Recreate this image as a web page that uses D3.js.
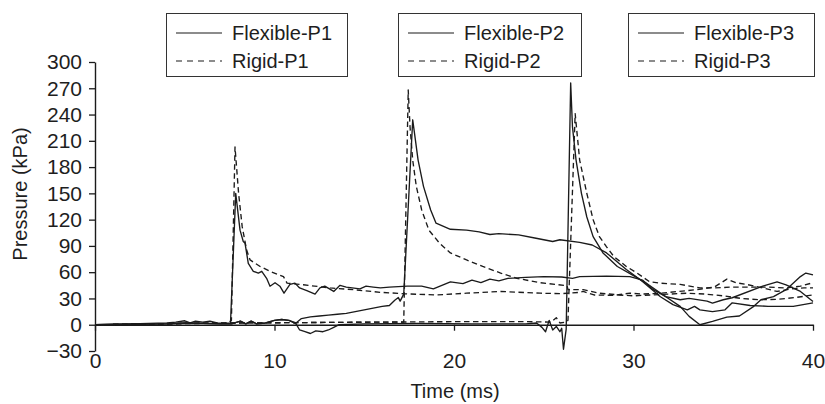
<!DOCTYPE html>
<html>
<head>
<meta charset="utf-8">
<script src="https://cdn.jsdelivr.net/npm/d3@7/dist/d3.min.js"></script>
<style>
  body { margin: 0; background: #fff; }
  svg { display: block; font-family: "Liberation Sans", Arial, sans-serif; }
</style>
</head>
<body>
<div id="chart"></div>
<script>
// [time (ms), pressure (kPa)]
const flexibleP1 = [[0,0],[1,0.5],[2,1],[3,1.5],[4,2],[4.5,3],[5,4.5],[5.3,2],[5.6,4],[6,3],[6.4,4],[6.8,2],[7.2,1.5],[7.55,2],
  [7.84,150],[8.08,108],[8.26,95],[8.36,93],[8.54,70],[8.82,61],[9.1,59],[9.29,61],[9.56,53],[9.75,44],[10.03,48],[10.3,44],
  [10.53,36],[10.86,46],[11.14,47.5],[11.4,42],[11.8,39],[12.26,35],[12.53,42],[12.8,44],[13.3,38],[13.65,45],[14,43],
  [14.76,41],[15.1,44],[15.5,43],[15.9,42],[16.4,43],[17.4,44],[18.2,44],[18.85,41],[19.8,49],[20.5,47],[21,51],[21.5,48],
  [22,52],[22.5,50],[23,53],[24,54],[25,55],[26,54.5],[26.6,53],[27,55],[28.5,55.5],[29.8,55],[30.5,51],[31.1,40],[31.8,32],
  [32.6,28.5],[33.1,30],[34.1,27],[34.4,24.7],[35,28.5],[35.5,30.8],[37.2,44],[38,49],[38.5,45.6],[39.3,38],[40,26.6]];

const rigidP1 = [[0,0],[2,0.5],[4,1],[6,1.5],[7.4,2],[7.6,5],[7.8,203],[8.0,150],[8.2,112],[8.45,85],[8.64,74],[9.2,66.5],
  [9.75,61],[10.5,55],[10.7,47.5],[11.6,45.6],[13.1,42],[14.4,40],[15.9,37],[17.3,35.3],[19,34],[20.7,36],[22.6,38],
  [24.8,36],[26,35.5],[27,37],[27.2,38],[27.8,34],[28.9,33.5],[29.8,36],[30.5,35],[31.5,36],[32.5,38],[33.5,40],[34.5,43],
  [35.2,52],[35.7,48],[36.3,46],[37.2,42],[38,38],[38.8,41],[39.5,42],[40,42]];

const flexibleP2 = [[0,0],[2,0.5],[4,1],[5,2],[6,1.5],[7,1],[7.6,1],[8.1,4],[8.4,1],[8.7,4],[9,1],[9.5,2],[10,5],[10.4,6],
  [10.8,5],[11.2,2],[11.5,7],[12,9],[12.5,10],[13,11],[13.5,12],[14,13],[14.5,15],[15,17],[15.5,19],[16,21],[16.4,22],
  [16.7,28],[16.9,31],[17.0,27],[17.2,35],[17.7,234],[18,188],[18.3,158],[18.7,131],[19,116],[19.8,109],[20.7,108],
  [21.4,106],[22,103],[22.5,104],[23.6,102.6],[24.5,99],[25.5,95],[25.9,97],[27,94],[27.7,91],[28.5,82],[29.6,63],
  [30.4,51],[31.5,32],[32.2,23],[33,17],[33.4,21],[33.7,17],[34.4,15],[35.1,17],[35.5,25],[36.5,22],[37.5,21],[38.9,21],[40,25]];

const rigidP2 = [[0,0],[2,0.5],[5,1.5],[8,2],[12,2.5],[16,3],[17.2,3],[17.45,268],[17.55,226],[17.7,188],[17.9,158],
  [18.2,131],[18.6,108],[19.2,93],[19.8,82],[20.7,74],[21.6,66.5],[22.6,59],[23.5,53],[24.8,48],[26.3,44.5],[26.35,40],
  [27.2,40],[28.1,36],[29.2,34],[30,33],[31,34],[32,35],[33,36],[34,35],[35,33],[36,30],[37,28.5],[38,29],[39,31],[40,34]];

const flexibleP3 = [[0,0],[2,0.5],[4,1],[5,2],[6,1.5],[7,1],[7.6,1],[8.1,4],[8.4,1],[8.7,4],[9,1],[9.5,2],[10,5],[10.4,6],
  [10.8,5],[11.2,1],[11.4,-6],[11.7,-8],[12,-10],[12.3,-7],[12.7,-8],[13,-6],[13.3,-3],[13.6,0],[15,1],[18,1.5],[21,1],
  [24,1],[24.6,2],[24.9,-3],[25.1,-8],[25.3,5],[25.5,-6],[25.7,-2],[25.9,-8],[26.0,-4],[26.1,-28],[26.25,-5],[26.5,276],
  [26.6,226],[26.8,188],[27.1,150],[27.4,123],[27.75,100.6],[28.3,82],[29.1,66.5],[30,56],[30.7,47.5],[31.8,32],[32.6,21],
  [33.1,9.5],[33.7,0],[34.4,3.8],[35.2,8.7],[35.9,10],[36.7,21],[37.1,28.5],[37.8,32],[38.5,40],[39.3,55],[39.6,59],[40,57]];

const rigidP3 = [[0,0],[2,0.5],[5,1.5],[8,2],[12,2.5],[16,3],[20,3.5],[24,3.5],[25.4,3],[25.7,8],[25.9,2],[26.2,3],
  [26.35,5],[26.75,241],[27.0,188],[27.4,150],[27.75,120],[28.1,100.6],[28.5,89],[28.9,78],[29.6,66.5],[30.2,59],
  [30.9,49],[31.5,47.5],[32.6,46],[33.7,42],[34.5,42],[35.5,43],[36.5,43],[37.5,43],[38.5,42],[39.3,44],[40,48]];

const seriesNames = ["Flexible-P1", "Rigid-P1", "Flexible-P2", "Rigid-P2", "Flexible-P3", "Rigid-P3"];
const seriesData = [flexibleP1, rigidP1, flexibleP2, rigidP2, flexibleP3, rigidP3];
const xTicks = [0, 10, 20, 30, 40];
const yTicks = [-30, 0, 30, 60, 90, 120, 150, 180, 210, 240, 270, 300];

const width = 825, height = 404;
const ink = "#1b1b1b";
const dash = "5.5,3.5";

const svg = d3.select("#chart").append("svg")
    .attr("width", width)
    .attr("height", height);

const x = d3.scaleLinear().domain([0, 40]).range([95, 813]);
const y = d3.scaleLinear().domain([-30, 300]).range([351, 62]);

// y axis
const yAxis = svg.append("g")
    .attr("transform", `translate(${x(0)},0)`)
    .call(d3.axisLeft(y).tickValues(yTicks).tickSize(6).tickSizeOuter(0).tickPadding(7));

// x axis sits on the zero line, labels below the -30 level
const xAxis = svg.append("g")
    .attr("transform", `translate(0,${y(0)})`)
    .call(d3.axisBottom(x).tickValues(xTicks).tickSize(6).tickSizeOuter(0).tickPadding(22));

[yAxis, xAxis].forEach(g => {
    g.select(".domain").attr("stroke", ink).attr("stroke-width", 1.4);
    g.selectAll(".tick line").attr("stroke", ink).attr("stroke-width", 1.3);
    g.selectAll(".tick text")
        .attr("fill", "#1e1e1e")
        .attr("font-size", "21px")
        .attr("font-family", "'Liberation Sans', Arial, sans-serif");
});

const line = d3.line()
    .x(d => x(d[0]))
    .y(d => y(d[1]));

seriesData.forEach((data, i) => {
    svg.append("path")
        .datum(data)
        .attr("fill", "none")
        .attr("stroke", ink)
        .attr("stroke-width", 1.35)
        .attr("stroke-linejoin", "round")
        .attr("stroke-dasharray", i % 2 === 1 ? dash : null)
        .attr("d", line);
});

// axis titles
svg.append("text")
    .attr("x", 455)
    .attr("y", 398)
    .attr("text-anchor", "middle")
    .attr("font-size", "20px")
    .attr("fill", "#1e1e1e")
    .text("Time (ms)");

svg.append("text")
    .attr("transform", "translate(27,194) rotate(-90)")
    .attr("text-anchor", "middle")
    .attr("font-size", "20px")
    .attr("fill", "#1e1e1e")
    .text("Pressure (kPa)");

// legends, one box per sensor
const legendBoxes = [
    { x0: 166, x1: 347, names: [seriesNames[0], seriesNames[1]] },
    { x0: 398, x1: 581, names: [seriesNames[2], seriesNames[3]] },
    { x0: 628, x1: 814, names: [seriesNames[4], seriesNames[5]] }
];

legendBoxes.forEach(b => {
    const g = svg.append("g");
    g.append("rect")
        .attr("x", b.x0 + 0.5)
        .attr("y", 13.5)
        .attr("width", b.x1 - b.x0)
        .attr("height", 63)
        .attr("fill", "#fff")
        .attr("stroke", "#333")
        .attr("stroke-width", 1);
    b.names.forEach((name, j) => {
        const ly = j === 0 ? 33 : 61;
        g.append("line")
            .attr("x1", b.x0 + 10)
            .attr("x2", b.x0 + 56)
            .attr("y1", ly)
            .attr("y2", ly)
            .attr("stroke", ink)
            .attr("stroke-width", 1.2)
            .attr("stroke-dasharray", j === 1 ? "6,5" : null);
        g.append("text")
            .attr("x", b.x0 + 66)
            .attr("y", ly + 7)
            .attr("font-size", "20px")
            .attr("fill", "#1e1e1e")
            .text(name);
    });
});
</script>
</body>
</html>
